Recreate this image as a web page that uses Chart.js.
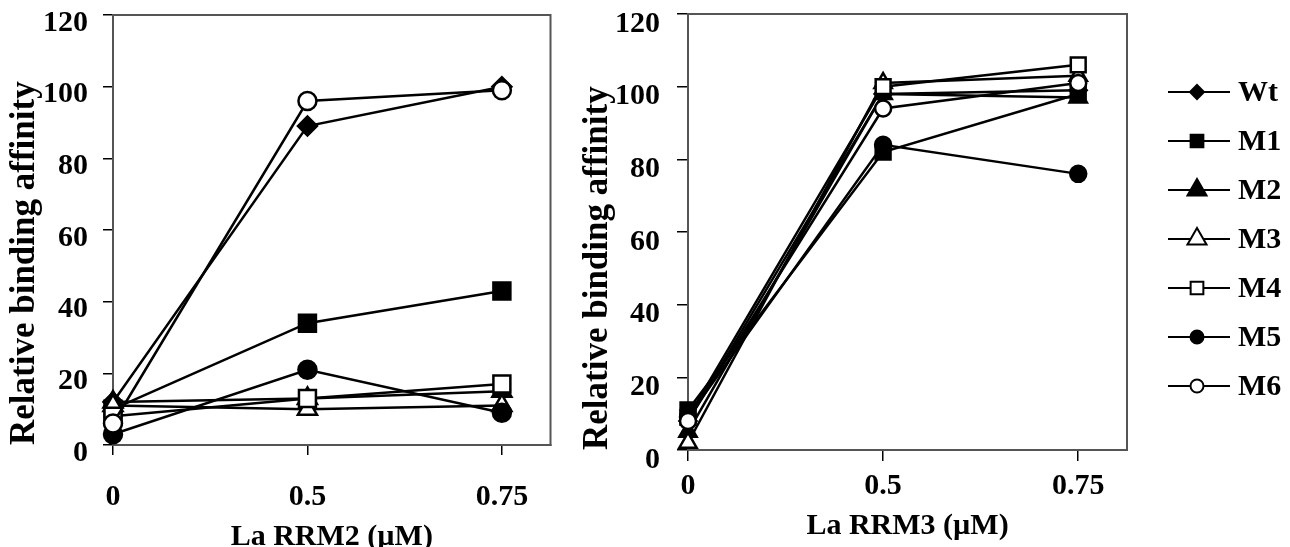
<!DOCTYPE html>
<html>
<head>
<meta charset="utf-8">
<script src="https://cdn.jsdelivr.net/npm/chart.js@4.4.1/dist/chart.umd.min.js"></script>
<style>
  html, body { margin: 0; padding: 0; background: #fff; }
  #wrap { position: relative; width: 1290px; height: 547px; overflow: hidden; }
  canvas { position: absolute; top: 0; }
</style>
</head>
<body>
<div id="wrap">
  <canvas id="rrm2" width="565" height="547" style="left:0"></canvas>
  <canvas id="rrm3" width="580" height="547" style="left:565px"></canvas>
  <canvas id="legend" width="145" height="547" style="left:1145px"></canvas>
</div>
<script>
// концентрации белка (подписи оси X)
const doseLabels = ['0', '0.5', '0.75'];

// серии: имена и маркеры
const seriesNames = ['Wt', 'M1', 'M2', 'M3', 'M4', 'M5', 'M6'];
const pointStyles = ['rectRot', 'rect', 'triangle', 'triangle', 'rect', 'circle', 'circle'];
const filled = [true, true, true, false, false, true, false];

// La RRM2 - относительное связывание
const rrm2Wt = [12, 89, 100];
const rrm2M1 = [10, 34, 43];
const rrm2M2 = [12, 13, 15];
const rrm2M3 = [11, 10, 11];
const rrm2M4 = [8, 13, 17];
const rrm2M5 = [3, 21, 9];
const rrm2M6 = [6, 96, 99];

// La RRM3
const rrm3Wt = [8, 98, 99];
const rrm3M1 = [11, 82, 98];
const rrm3M2 = [5, 98, 97];
const rrm3M3 = [2, 101, 103];
const rrm3M4 = [9, 100, 106];
const rrm3M5 = [9, 84, 76];
const rrm3M6 = [8, 94, 101];

const yTicks = [0, 20, 40, 60, 80, 100, 120];

const FONT = "'Liberation Serif', 'Times New Roman', serif";

// рамка вокруг области графика
const frame = {
    id: 'frame',
    beforeDatasetsDraw(chart) {
        const { ctx, chartArea: a } = chart;
        ctx.save();
        ctx.strokeStyle = '#555';
        ctx.lineWidth = 2;
        ctx.strokeRect(a.left, a.top, a.right - a.left, a.bottom - a.top);
        ctx.restore();
    }
};

function makeChart(id, values, cfg) {
    const datasets = seriesNames.map((name, i) => ({
        label: name,
        data: values[i].map((v, k) => ({ x: k, y: v })),
        borderColor: '#000',
        borderWidth: 2.5,
        pointStyle: pointStyles[i],
        pointRadius: cfg.radius[pointStyles[i]],
        pointBackgroundColor: filled[i] ? '#000' : '#fff',
        pointBorderColor: '#000',
        pointBorderWidth: 2.5,
        clip: false,
        order: seriesNames.length - i
    }));

    return new Chart(document.getElementById(id), {
        type: 'line',
        data: { datasets },
        options: {
            responsive: false,
            animation: false,
            layout: { padding: { left: 0, top: cfg.top, right: cfg.right, bottom: 0 } },
            plugins: { legend: { display: false }, tooltip: { enabled: false } },
            scales: {
                x: {
                    type: 'linear',
                    min: 0,
                    max: 2.25,
                    afterBuildTicks: s => { s.ticks = doseLabels.map((_, k) => ({ value: k })); },
                    afterFit: s => { s.height = cfg.xHeight; s.paddingLeft = 0; s.paddingRight = 0; },
                    ticks: {
                        callback: v => doseLabels[v],
                        color: '#000',
                        font: { family: FONT, size: 30, weight: 'bold' },
                        padding: cfg.xPad,
                        maxRotation: 0,
                        autoSkip: false
                    },
                    grid: { drawOnChartArea: false, tickLength: cfg.tick, color: '#000', lineWidth: 1.5 },
                    border: { color: '#555', width: 2 },
                    title: {
                        display: true,
                        text: cfg.xTitle,
                        color: '#000',
                        font: { family: FONT, size: 30, weight: 'bold', lineHeight: cfg.xTitleLH },
                        padding: { top: 0, bottom: cfg.xTitlePad }
                    }
                },
                y: {
                    min: 0,
                    max: 120,
                    afterBuildTicks: s => { s.ticks = yTicks.map(v => ({ value: v })); },
                    afterFit: s => { s.width = cfg.yWidth; s.paddingTop = 0; s.paddingBottom = 0; },
                    ticks: {
                        color: '#000',
                        font: { family: FONT, size: 30, weight: 'bold' },
                        padding: cfg.yPad,
                        labelOffset: cfg.yLabelOffset
                    },
                    grid: { drawOnChartArea: false, tickLength: cfg.tick, color: '#000', lineWidth: 1.5 },
                    border: { color: '#555', width: 2 },
                    title: {
                        display: true,
                        text: 'Relative binding affinity',
                        align: 'start',
                        color: '#000',
                        font: { family: FONT, size: 35, weight: 'bold' },
                        padding: { top: cfg.yTitlePad, bottom: 0 }
                    }
                }
            }
        },
        plugins: [frame]
    });
}

makeChart('rrm2', [rrm2Wt, rrm2M1, rrm2M2, rrm2M3, rrm2M4, rrm2M5, rrm2M6], {
    xTitle: 'La RRM2 (\u00b5M)',
    top: 15, right: 10, yWidth: 113, xHeight: 102,
    tick: 10, xPad: 24, yPad: 15, yLabelOffset: 8,
    xTitleLH: 0.65, xTitlePad: 0, yTitlePad: 4,
    radius: { rectRot: 9.5, rect: 12, triangle: 11, circle: 9 }
});

makeChart('rrm3', [rrm3Wt, rrm3M1, rrm3M2, rrm3M3, rrm3M4, rrm3M5, rrm3M6], {
    xTitle: 'La RRM3 (\u00b5M)',
    top: 14, right: 18, yWidth: 123, xHeight: 97,
    tick: 11, xPad: 7, yPad: 17, yLabelOffset: 10,
    xTitleLH: 1.2, xTitlePad: 3, yTitlePad: 12,
    radius: { rectRot: 8.5, rect: 10.5, triangle: 10, circle: 8 }
});

// --- легенда справа ---
function drawMarker(ctx, style, r, x, y, fill) {
    ctx.beginPath();
    if (style === 'circle') {
        ctx.arc(x, y, r, 0, Math.PI * 2);
    } else if (style === 'rect') {
        const s = r * Math.SQRT1_2;
        ctx.rect(x - s, y - s, 2 * s, 2 * s);
    } else if (style === 'rectRot') {
        ctx.moveTo(x, y - r); ctx.lineTo(x + r, y); ctx.lineTo(x, y + r); ctx.lineTo(x - r, y);
        ctx.closePath();
    } else {
        ctx.moveTo(x, y - r);
        ctx.lineTo(x + r * Math.sin(2 * Math.PI / 3), y + r * 0.5);
        ctx.lineTo(x - r * Math.sin(2 * Math.PI / 3), y + r * 0.5);
        ctx.closePath();
    }
    ctx.fillStyle = fill ? '#000' : '#fff';
    ctx.fill();
    ctx.stroke();
}

function drawLegend() {
    const ctx = document.getElementById('legend').getContext('2d');
    const legendRadius = { rectRot: 7, rect: 9, triangle: 11, circle: 6.5 };
    ctx.strokeStyle = '#000';
    ctx.lineWidth = 2;
    ctx.font = `bold 30px ${FONT}`;
    ctx.textBaseline = 'middle';
    seriesNames.forEach((name, i) => {
        const y = 92 + i * 49;
        ctx.beginPath();
        ctx.moveTo(23, y);
        ctx.lineTo(85, y);
        ctx.stroke();
        drawMarker(ctx, pointStyles[i], legendRadius[pointStyles[i]], 52, y, filled[i]);
        ctx.fillStyle = '#000';
        ctx.fillText(name, 93, y + 1);
    });
}
drawLegend();
</script>
</body>
</html>
